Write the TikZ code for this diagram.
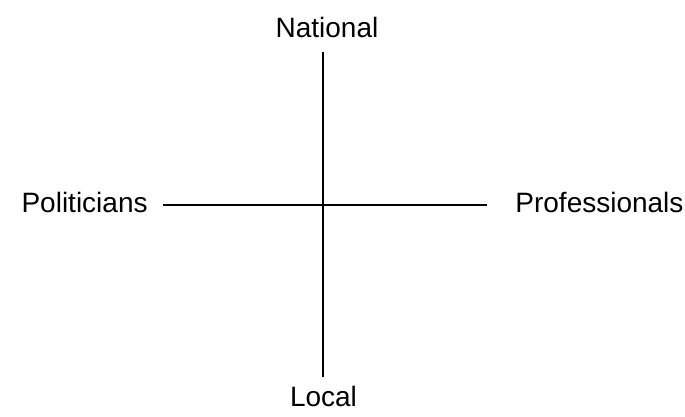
\documentclass[tikz,border=0pt]{standalone}
\usepackage{fontspec}
\setmainfont{Liberation Sans}
\usetikzlibrary{positioning}

\begin{document}
\begin{tikzpicture}[
    x=0.5pt, y=-0.5pt,
    axis/.style={line width=1.2pt, black},
    lbl/.style={inner sep=0pt, font=\fontsize{14}{17}\selectfont}
]
    \useasboundingbox (0,0) rectangle (685,417);

    \coordinate (top)   at (323,52);
    \coordinate (bot)   at (323,377);
    \coordinate (left)  at (163,205);
    \coordinate (right) at (487,205);

    \node[lbl, anchor=base] (national) at (327,38) {National};
    \node[lbl, anchor=base] (local) at (323.5,406) {Local};
    \node[lbl, anchor=base east] (politicians) at (148,212) {Politicians};
    \node[lbl, anchor=base west] (professionals) at (515,212) {Professionals};

    \draw[axis] (top) -- (bot);
    \draw[axis] (left) -- (right);
\end{tikzpicture}
\end{document}
